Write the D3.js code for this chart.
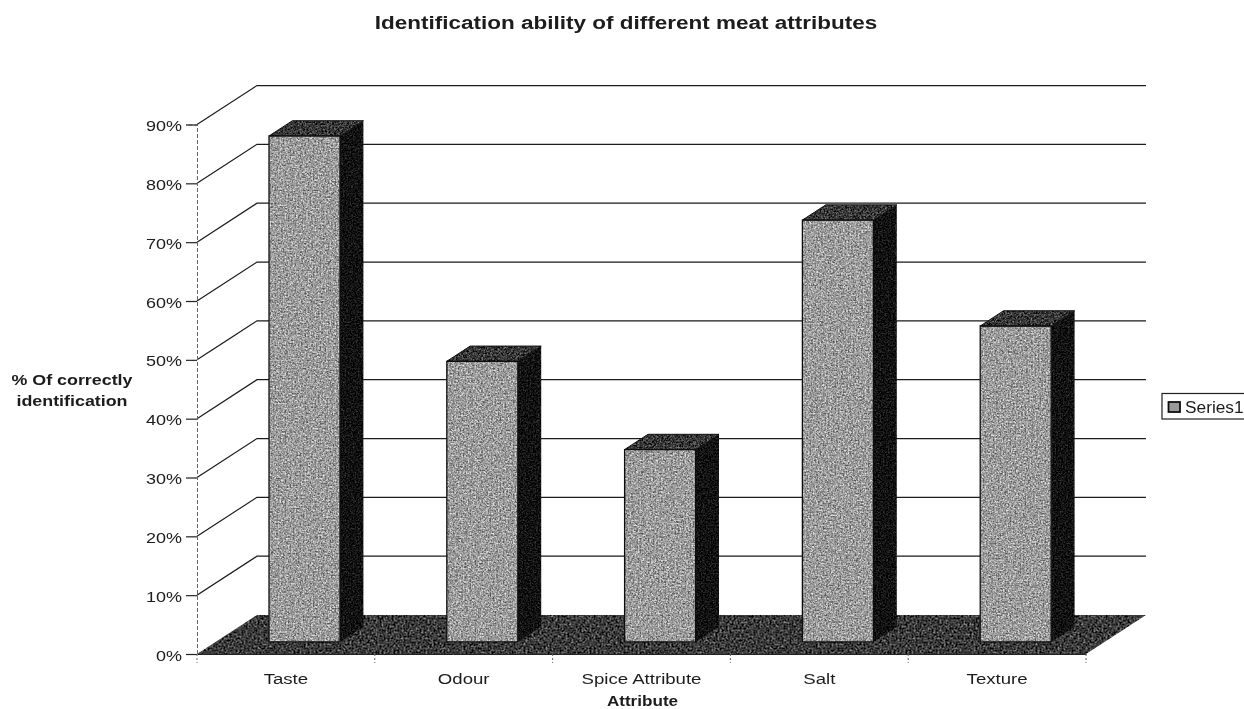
<!DOCTYPE html>
<html><head><meta charset="utf-8">
<script src="https://cdnjs.cloudflare.com/ajax/libs/d3/7.9.0/d3.min.js"></script>
<style>html,body{margin:0;background:#fff;overflow:hidden}svg{display:block}text{font-family:"Liberation Sans",Arial,sans-serif;fill:#1c1c1c}</style>
</head><body><svg id="c" width="1244" height="709"></svg>
<script>
const categories=["Taste","Odour","Spice Attribute","Salt","Texture"];
const values=[0.86,0.477,0.327,0.717,0.537];
const ticks=[0,0.1,0.2,0.3,0.4,0.5,0.6,0.7,0.8,0.9];
const seriesName="Series1";
const titleText="Identification ability of different meat attributes";
const yTitle=["% Of correctly","identification"];
const xTitle="Attribute";

const svg=d3.select("#c");
const defs=svg.append("defs");
function grain(id,freq,lo,hi,seed){
  const f=defs.append("filter").attr("id",id).attr("x",0).attr("y",0).attr("width","100%").attr("height","100%").attr("color-interpolation-filters","sRGB");
  f.append("feTurbulence").attr("type","fractalNoise").attr("baseFrequency",freq).attr("numOctaves",2).attr("seed",seed).attr("result","n");
  f.append("feColorMatrix").attr("in","n").attr("type","matrix")
   .attr("values","1 1 1 0 -1  1 1 1 0 -1  1 1 1 0 -1  0 0 0 0 1").attr("result","g");
  const t=f.append("feComponentTransfer").attr("in","g");
  ["feFuncR","feFuncG","feFuncB"].forEach(k=>t.append(k).attr("type","linear").attr("slope",(hi-lo)/0.5).attr("intercept",lo-(hi-lo)*0.5));
  f.append("feComposite").attr("in2","SourceAlpha").attr("operator","in");
}
grain("gFront",0.6,0.47,0.75,3);
grain("gTop",0.55,0.08,0.36,7);
grain("gSide",0.6,0.0,0.14,11);
grain("gFloor",0.5,0.08,0.38,5);
defs.append("filter").attr("id","soft").append("feGaussianBlur").attr("stdDeviation",0.6);

// stretch text horizontally, as the scanned original is wider than the font's natural width
function stretch(sel,k){sel.each(function(){this.setAttribute("textLength",this.getComputedTextLength()*k);this.setAttribute("lengthAdjust","spacingAndGlyphs");});}

const root=svg.append("g").attr("filter","url(#soft)");
const dx=60,dy=-39;
const x=d3.scaleBand().domain(categories).range([197,1086]);
const y=d3.scaleLinear().domain([0,0.9]).range([654,124.5]);
const P=(px,v,d)=>[px+d*dx,y(v)+d*dy];
const line=d3.line();
const x0=x.range()[0],x1=x.range()[1];

// floor
root.append("path").attr("d",line([P(x0,0,0),P(x0,0,1),P(x1,0,1),P(x1,0,0)])+"Z")
 .attr("fill","#444").attr("filter","url(#gFloor)");

// wall gridlines
ticks.forEach(t=>{
  if(t>0) root.append("path").attr("d",line([P(x0,t,0),P(x0,t,1),P(x1,t,1)]))
    .attr("fill","none").attr("stroke","#1c1c1c").attr("stroke-width",1.25);
});

// axes
const gy=root.append("g").attr("transform",`translate(${x0},0)`)
 .call(d3.axisLeft(y).tickValues(ticks).tickFormat(d3.format(".0%")).tickSize(11).tickPadding(4));
gy.select(".domain").attr("stroke","#666").attr("stroke-dasharray","4 2").attr("stroke-width",1);
gy.selectAll(".tick line").attr("stroke","#222").attr("stroke-width",1.2);
gy.selectAll("text").attr("font-size",15.5).attr("fill","#1c1c1c").attr("font-family",'"Liberation Sans"').attr("dy",null).attr("y",6).call(stretch,1.16);
const gx=root.append("g").attr("transform",`translate(0,${y(0)})`)
 .call(d3.axisBottom(x).tickSize(0).tickPadding(18));
gx.select(".domain").attr("stroke","#222");
gx.selectAll("text").attr("font-size",15.5).attr("fill","#1c1c1c").attr("font-family",'"Liberation Sans"').attr("dy",null).attr("y",30).call(stretch,1.2);
root.selectAll("line.xt").data(d3.range(categories.length+1)).join("line").attr("class","xt")
 .attr("x1",i=>x0+i*x.step()).attr("x2",i=>x0+i*x.step()).attr("y1",y(0)).attr("y2",y(0)+9)
 .attr("stroke","#666").attr("stroke-dasharray","2 2");

// bars
const dF=0.31,dB=0.70,barW=71;
const bars=root.selectAll("g.bar").data(categories.map((c,i)=>({c,v:values[i]}))).join("g").attr("class","bar");
const L=d=>x(d.c)+x.bandwidth()/2-barW/2;
const R=d=>L(d)+barW;
const topF=d=>line([P(L(d),d.v,dF),P(L(d),d.v,dB),P(R(d),d.v,dB),P(R(d),d.v,dF)])+"Z";
const frontF=d=>line([P(L(d),d.v,dF),P(R(d),d.v,dF),P(R(d),0,dF),P(L(d),0,dF)])+"Z";
bars.append("path").attr("d",topF).attr("fill","#333").attr("filter","url(#gTop)");
bars.append("path").attr("d",d=>line([P(R(d),d.v,dF),P(R(d),d.v,dB),P(R(d),0,dB),P(R(d),0,dF)])+"Z")
 .attr("fill","#111").attr("filter","url(#gSide)");
bars.append("path").attr("d",frontF).attr("fill","#999").attr("filter","url(#gFront)");
bars.append("path").attr("d",frontF).attr("fill","none").attr("stroke","#111").attr("stroke-width",1.3);
bars.append("path").attr("d",topF).attr("fill","none").attr("stroke","#111").attr("stroke-width",1);

// titles
root.append("text").attr("x",626).attr("y",29).attr("text-anchor","middle").attr("font-size",18).attr("font-weight",700).text(titleText).call(stretch,1.25);
root.append("text").attr("x",642.5).attr("y",706).attr("text-anchor","middle").attr("font-size",15).attr("font-weight",700).text(xTitle).call(stretch,1.14);
yTitle.forEach((t,i)=>root.append("text").attr("x",72).attr("y",385+i*21).attr("text-anchor","middle").attr("font-size",15).attr("font-weight",700).text(t).call(stretch,1.19));

// legend
const lg=root.append("g");
lg.append("rect").attr("x",1162).attr("y",393.5).attr("width",90).attr("height",25.5).attr("fill","#fff").attr("stroke","#222").attr("stroke-width",1.2);
lg.append("rect").attr("x",1168.5).attr("y",402).attr("width",11.5).attr("height",10).attr("fill","#999").attr("stroke","#111").attr("stroke-width",1.8);
lg.append("text").attr("x",1185).attr("y",412.5).attr("font-size",16).text(seriesName).call(stretch,1.08);
</script></body></html>
